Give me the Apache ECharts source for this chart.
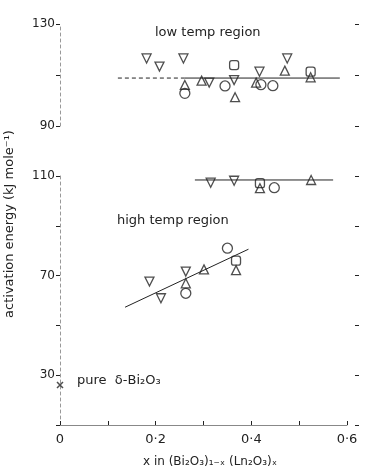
<!DOCTYPE html>
<html><head><meta charset="utf-8">
<script src="https://cdn.jsdelivr.net/npm/echarts@6/dist/echarts.min.js"></script>
<style>html,body{margin:0;padding:0;background:#fff}#c{width:375px;height:471px}</style>
</head><body><div id="c"></div>
<script>
// x ticks (composition x)
const xTicks = [0, 0.1, 0.2, 0.3, 0.4, 0.5, 0.6];
const upperYLabels = [90, 130];
const lowerYLabels = [30, 70, 110];

// low temp region (upper panel)
const lowDown   = [[0.181,116.5],[0.208,113.3],[0.258,116.5],[0.312,107.0],[0.364,108.0],[0.417,111.3],[0.475,116.5]];
const lowUp     = [[0.261,106.1],[0.296,107.8],[0.366,101.3],[0.410,107.0],[0.470,111.7],[0.524,109.1]];
const lowCircle = [[0.261,102.8],[0.345,105.7],[0.420,106.2],[0.445,105.8]];
const lowSquare = [[0.364,113.9],[0.524,111.3]];
const lowLineDashed = [[0.121,108.8],[0.26,108.8]];
const lowLineSolid  = [[0.26,108.8],[0.585,108.8]];

// middle group (lower panel)
const midDown   = [[0.315,107.3],[0.364,108.1],[0.418,111.1],[0.477,117.8]];
const midUp     = [[0.418,105.1],[0.473,111.7],[0.525,108.4]];
const midCircle = [[0.448,105.3]];
const midSquare = [[0.418,107.1],[0.525,110.7]];
const midLine   = [[0.282,108.4],[0.571,108.4]];

// high temp region (lower panel)
const highDown   = [[0.187,67.6],[0.211,60.9],[0.263,71.6]];
const highUp     = [[0.263,66.9],[0.301,72.5],[0.368,72.2]];
const highCircle = [[0.263,62.9],[0.350,81.0]];
const highSquare = [[0.368,76.0]];
const highLine   = [[0.136,57.3],[0.394,80.6]];

// pure delta-Bi2O3
const pure = [[0, 26.1]];

const INK = '#222';
const FONT = 'DejaVu Sans';

function sc(data, g, kind) {
  const s = {
    type: 'scatter', data: data, xAxisIndex: g, yAxisIndex: g * 2,
    symbolSize: 9, silent: true,
    itemStyle: { color: 'rgba(255,255,255,0)', borderColor: INK, borderWidth: 1.3 }
  };
  if (kind === 'down') { s.symbol = 'triangle'; s.symbolRotate = 180; }
  else if (kind === 'up') { s.symbol = 'triangle'; }
  else if (kind === 'circle') { s.symbol = 'circle'; s.symbolSize = 10; }
  else if (kind === 'square') { s.symbol = 'roundRect'; s.symbolSize = 9; }
  else if (kind === 'cross') { s.symbol = 'path://M0,0L10,10M10,0L0,10'; s.symbolSize = 6; s.itemStyle = { color: INK, borderColor: INK, borderWidth: 1.5 }; }
  return s;
}
function ln(data, g, type) {
  return { type: 'line', data: data, xAxisIndex: g, yAxisIndex: g * 2, symbol: 'none', silent: true,
    lineStyle: { color: INK, width: 1, type: type || 'solid' } };
}

const fmtX = v => {
  const r = Math.round(v * 10) / 10;
  if (Math.round(r * 10) % 2 !== 0) return '';
  return r === 0 ? '0' : '0\u00b7' + Math.round(r * 10);
};

const option = {
  backgroundColor: '#fff',
  animation: false,
  grid: [
    { left: 60, right: 28, top: 24, height: 102 },
    { left: 60, right: 28, top: 176, height: 249 }
  ],
  xAxis: [
    { gridIndex: 0, type: 'value', min: 0, max: 0.6, show: false },
    { gridIndex: 1, type: 'value', min: 0, max: 0.6, interval: 0.1,
      axisLine: { show: true, lineStyle: { color: '#888', width: 1 } },
      axisTick: { show: true, inside: true, length: 4, lineStyle: { color: INK } },
      axisLabel: { color: INK, fontSize: 13, fontFamily: FONT, margin: 8, formatter: fmtX },
      splitLine: { show: false } }
  ],
  yAxis: [
    { gridIndex: 0, type: 'value', min: 90, max: 130, interval: 20, position: 'left',
      axisLine: { show: true, lineStyle: { color: '#999', type: [3, 3] } },
      axisTick: { show: true, length: 4, lineStyle: { color: INK } },
      axisLabel: { color: INK, fontSize: 12, fontFamily: FONT, margin: 5,
        formatter: v => upperYLabels.includes(v) ? String(v) : '' },
      splitLine: { show: false } },
    { gridIndex: 0, type: 'value', min: 90, max: 130, interval: 20, position: 'right', offset: 12,
      axisLine: { show: false }, axisTick: { show: true, length: 4, inside: true, lineStyle: { color: INK } },
      axisLabel: { show: false }, splitLine: { show: false } },
    { gridIndex: 1, type: 'value', min: 10, max: 110, interval: 20, position: 'left',
      axisLine: { show: true, lineStyle: { color: '#999', type: [3, 3] } },
      axisTick: { show: true, length: 4, lineStyle: { color: INK } },
      axisLabel: { color: INK, fontSize: 12, fontFamily: FONT, margin: 5,
        formatter: v => lowerYLabels.includes(v) ? String(v) : '' },
      splitLine: { show: false } },
    { gridIndex: 1, type: 'value', min: 10, max: 110, interval: 20, position: 'right', offset: 12,
      axisLine: { show: false }, axisTick: { show: true, length: 4, inside: true, lineStyle: { color: INK } },
      axisLabel: { show: false }, splitLine: { show: false } }
  ],
  graphic: [
    { type: 'text', left: 155, top: 26, style: { text: 'low temp region', fill: INK, font: '13px "DejaVu Sans"' } },
    { type: 'text', left: 117, top: 214, style: { text: 'high temp region', fill: INK, font: '13px "DejaVu Sans"' } },
    { type: 'text', left: 77, top: 374, style: { text: 'pure  \u03b4-Bi\u2082O\u2083', fill: INK, font: '13px "DejaVu Sans"' } },
    { type: 'text', x: 10, y: 224, rotation: Math.PI / 2,
      style: { text: 'activation energy (kJ mole\u207b\u00b9)', fill: INK, font: '13px "DejaVu Sans"', align: 'center', verticalAlign: 'middle' } },
    { type: 'text', x: 210, y: 462,
      style: { text: 'x in (Bi\u2082O\u2083)\u2081\u208b\u2093 (Ln\u2082O\u2083)\u2093', fill: INK, font: '12px "DejaVu Sans"', align: 'center', verticalAlign: 'middle' } }
  ],
  series: [
    ln(lowLineDashed, 0, [4, 3]), ln(lowLineSolid, 0),
    sc(lowDown, 0, 'down'), sc(lowUp, 0, 'up'), sc(lowCircle, 0, 'circle'), sc(lowSquare, 0, 'square'),
    ln(midLine, 1), ln(highLine, 1),
    sc(midDown, 1, 'down'), sc(midUp, 1, 'up'), sc(midCircle, 1, 'circle'), sc(midSquare, 1, 'square'),
    sc(highDown, 1, 'down'), sc(highUp, 1, 'up'), sc(highCircle, 1, 'circle'), sc(highSquare, 1, 'square'),
    sc(pure, 1, 'cross')
  ]
};
echarts.init(document.getElementById('c'), null, { renderer: 'canvas' }).setOption(option);
</script></body></html>
